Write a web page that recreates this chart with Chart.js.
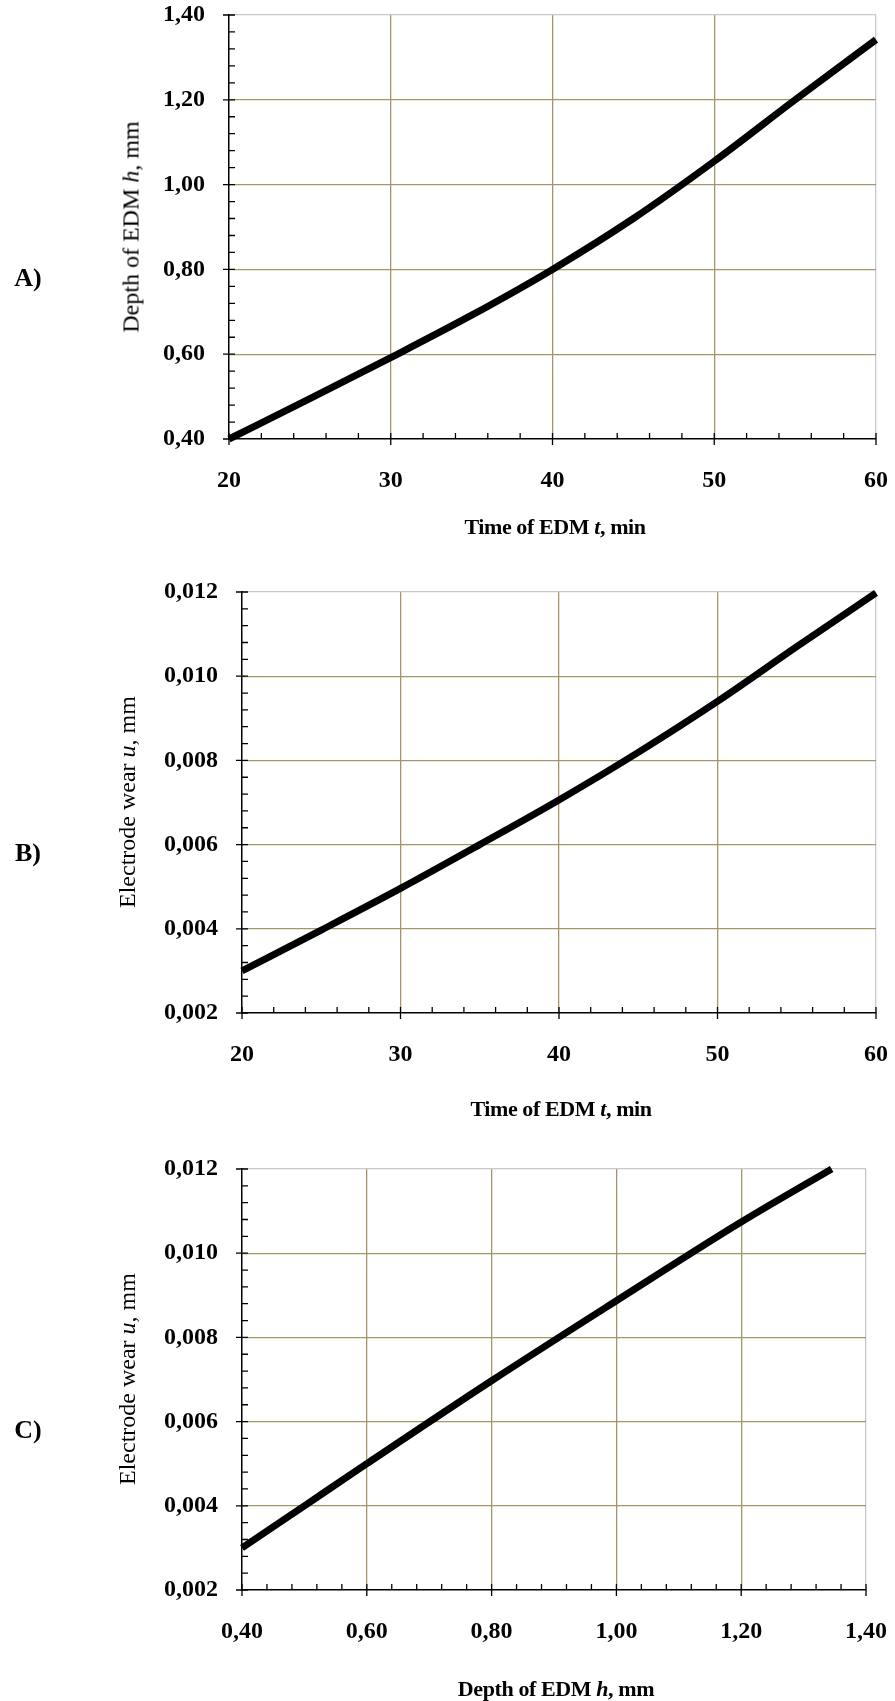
<!DOCTYPE html>
<html>
<head>
<meta charset="utf-8">
<script src="https://cdn.jsdelivr.net/npm/chart.js@4.4.1/dist/chart.umd.min.js"></script>
<style>
  html, body { margin: 0; padding: 0; background: #fff; }
  body { width: 895px; height: 1701px; position: relative; overflow: hidden; font-family: "Liberation Serif", "DejaVu Serif", serif; color: #000; }
  canvas { position: absolute; left: 0; }
  .panel { position: absolute; font-weight: bold; font-size: 26px; transform: translate(-50%, -50%); }
  .ytitle { position: absolute; font-size: 24px; white-space: nowrap; transform: translate(-50%, -50%) rotate(-90deg); }
  .xtitle { position: absolute; font-size: 22px; font-weight: bold; white-space: nowrap; letter-spacing: -0.4px; transform: translate(-50%, -50%); }
</style>
</head>
<body>
<canvas id="chartA" width="895" height="567" style="top:0px"></canvas>
<canvas id="chartB" width="895" height="567" style="top:567px"></canvas>
<canvas id="chartC" width="895" height="567" style="top:1134px"></canvas>

<div class="panel" style="left:28px; top:278px">A)</div>
<div class="panel" style="left:28px; top:853px">B)</div>
<div class="panel" style="left:28px; top:1430px">C)</div>

<div class="ytitle" style="left:131px; top:227px">Depth of EDM <i>h</i>, mm</div>
<div class="ytitle" style="left:127px; top:802px">Electrode wear <i>u</i>, mm</div>
<div class="ytitle" style="left:127px; top:1379px">Electrode wear <i>u</i>, mm</div>

<div class="xtitle" style="left:555px; top:527px">Time of EDM <i>t</i>, min</div>
<div class="xtitle" style="left:561px; top:1109px">Time of EDM <i>t</i>, min</div>
<div class="xtitle" style="left:556px; top:1689px">Depth of EDM <i>h</i>, mm</div>

<script>
const timeT  = [20, 25, 30, 35, 40, 45, 50, 55, 60];
const depthH = [0.40, 0.495, 0.592, 0.692, 0.80, 0.92, 1.055, 1.20, 1.342];
const wearU  = [0.0030, 0.00397, 0.00496, 0.0060, 0.00706, 0.00819, 0.0094, 0.0107, 0.01198];

const depthC = [0.40, 0.50, 0.60, 0.80, 1.00, 1.20, 1.345];
const wearC  = [0.0030, 0.0040, 0.0050, 0.00697, 0.00887, 0.01074, 0.0120];

// axis tick labels
const timeTicks  = [20, 30, 40, 50, 60];
const depthTicks = [0.40, 0.60, 0.80, 1.00, 1.20, 1.40];
const wearTicks  = [0.002, 0.004, 0.006, 0.008, 0.010, 0.012];

const GRID = '#a3966a';
const EDGE = '#c8c8c8';
const tickFont = { family: '"Liberation Serif", serif', size: 24, weight: 'bold' };

const fmtInt = v => String(Math.round(v));
const fmt2 = v => v.toFixed(2).replace('.', ',');
const fmt3 = v => v.toFixed(3).replace('.', ',');

// small black tick marks: major ones cross the axis, minor ones point inward
const tickMarks = {
  id: 'tickMarks',
  afterDraw(chart, args, opts) {
    const { ctx, chartArea: a, scales: { x, y } } = chart;
    const n = opts.minor;
    ctx.save();
    ctx.strokeStyle = '#000';
    ctx.lineWidth = 1.3;
    ctx.beginPath();
    const xt = x.ticks.map(t => t.value);
    for (let i = 0; i < xt.length; i++) {
      const px = x.getPixelForValue(xt[i]);
      ctx.moveTo(px, a.bottom + 6);
      ctx.lineTo(px, a.bottom - 6);
      if (i < xt.length - 1) {
        for (let k = 1; k < n; k++) {
          const mx = x.getPixelForValue(xt[i] + (xt[i + 1] - xt[i]) * k / n);
          ctx.moveTo(mx, a.bottom);
          ctx.lineTo(mx, a.bottom - 6);
        }
      }
    }
    const yt = y.ticks.map(t => t.value);
    for (let i = 0; i < yt.length; i++) {
      const py = y.getPixelForValue(yt[i]);
      ctx.moveTo(a.left - 6, py);
      ctx.lineTo(a.left + 6, py);
      if (i < yt.length - 1) {
        for (let k = 1; k < n; k++) {
          const my = y.getPixelForValue(yt[i] + (yt[i + 1] - yt[i]) * k / n);
          ctx.moveTo(a.left, my);
          ctx.lineTo(a.left + 6, my);
        }
      }
    }
    ctx.stroke();
    ctx.restore();
  }
};

function gridColor(c) {
  const last = c.scale.ticks.length - 1;
  if (c.index === 0) return 'rgba(0,0,0,0)';
  return c.index === last ? EDGE : GRID;
}

function axis(ticks, fmt, fitFn, pad) {
  return {
    type: 'linear',
    min: ticks[0],
    max: ticks[ticks.length - 1],
    afterBuildTicks: s => { s.ticks = ticks.map(v => ({ value: v })); },
    afterFit: s => {
      fitFn(s);
      // keep the plot box where the layout padding puts it
      s.paddingTop = s.paddingBottom = s.paddingLeft = s.paddingRight = 0;
    },
    grid: { color: gridColor, lineWidth: 1.3, drawTicks: false },
    border: { color: '#000', width: 1.5 },
    ticks: { padding: pad, color: '#000', font: tickFont, callback: fmt, autoSkip: false, maxRotation: 0 }
  };
}

function makeChart(id, xs, ys, xTicks, yTicks, fmtX, fmtY, padding) {
  return new Chart(document.getElementById(id), {
    type: 'line',
    data: {
      datasets: [{
        data: xs.map((v, i) => ({ x: v, y: ys[i] })),
        borderColor: '#000',
        borderWidth: 7,
        pointRadius: 0,
        cubicInterpolationMode: 'monotone',
        borderCapStyle: 'butt',
        fill: false,
        clip: false
      }]
    },
    options: {
      responsive: false,
      animation: false,
      layout: { padding: padding, autoPadding: false },
      plugins: { legend: { display: false }, tooltip: { enabled: false }, tickMarks: { minor: 5 } },
      scales: {
        x: axis(xTicks, fmtX, s => { s.height = 60; }, 27),
        y: axis(yTicks, fmtY, s => { s.width = 80; }, 24)
      }
    },
    plugins: [tickMarks]
  });
}

makeChart('chartA', timeT, depthH, timeTicks, depthTicks, fmtInt, fmt2,
  { left: 149, right: 19, top: 15, bottom: 68 });
makeChart('chartB', timeT, wearU, timeTicks, wearTicks, fmtInt, fmt3,
  { left: 162, right: 19, top: 25, bottom: 61 });
makeChart('chartC', depthC, wearC, depthTicks, wearTicks, fmt2, fmt3,
  { left: 162, right: 29, top: 35, bottom: 51 });
</script>
</body>
</html>
